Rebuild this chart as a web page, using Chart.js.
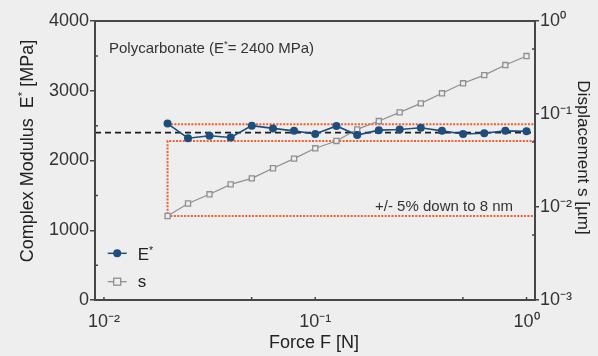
<!DOCTYPE html>
<html><head><meta charset="utf-8">
<script src="https://cdn.jsdelivr.net/npm/chart.js@4.4.1/dist/chart.umd.min.js"></script>
<style>html,body{margin:0;padding:0;background:#eeeeee;overflow:hidden}canvas{display:block}</style>
</head><body>
<canvas id="c" width="598" height="356"></canvas>
<script>
// ---- data ----
const forceN = [0.02, 0.025, 0.0316, 0.0398, 0.0501, 0.0631, 0.0794, 0.1, 0.126, 0.158, 0.2, 0.251, 0.316, 0.398, 0.501, 0.631, 0.794, 1.0];
const modulusMPa = [2530, 2320, 2355, 2330, 2500, 2460, 2425, 2380, 2495, 2365, 2435, 2445, 2470, 2425, 2380, 2390, 2425, 2420];
const displacementUm = [0.0080, 0.0109, 0.0137, 0.0175, 0.0203, 0.0261, 0.0331, 0.0428, 0.0513, 0.0684, 0.084, 0.104, 0.130, 0.167, 0.214, 0.262, 0.336, 0.420];
const referenceModulus = 2400;
const tolerance = 0.05;
const minDisplacementUm = 0.008;
const xTickValues = [0.01, 0.1, 1];
const xTickLabels = ['10⁻²', '10⁻¹', '10⁰'];
const yTickValues = [0, 1000, 2000, 3000, 4000];
const y2TickValues = [0.001, 0.01, 0.1, 1];
const y2TickLabels = ['10⁻³', '10⁻²', '10⁻¹', '10⁰'];
const yMinorValues = [500, 1500, 2500, 3500];
const y2MinorValues = [0.005, 0.05, 0.5];
const xMinorValues = [0.01, 0.05, 0.1, 0.5, 1];

const FF = "'Liberation Sans', Arial, Helvetica, sans-serif";
const BG = '#eeeeee';
const BLUE = '#1d4e7e';
const GREY = '#8f8f8f';
const ORANGE = '#ef5f2f';
const AXIS = '#474747';
Chart.defaults.font.family = FF;

function drawRich(ctx, parts, x, y, size, align, rot, color) {
  ctx.save();
  ctx.translate(x, y);
  ctx.rotate(rot);
  ctx.fillStyle = color;
  ctx.textBaseline = 'alphabetic';
  ctx.textAlign = 'left';
  let w = 0;
  parts.forEach(p => { ctx.font = (p.sup ? size * 0.62 : size) + 'px ' + FF; p.w = ctx.measureText(p.t).width; w += p.w; });
  let cx = align === 'center' ? -w / 2 : (align === 'right' ? -w : 0);
  parts.forEach(p => {
    ctx.font = (p.sup ? size * 0.62 : size) + 'px ' + FF;
    ctx.fillText(p.t, cx, p.sup ? -size * 0.38 : 0);
    cx += p.w;
  });
  ctx.restore();
}

const decorPlugin = {
  id: 'decor',
  beforeDatasetsDraw(chart) {
    const {ctx, chartArea: a, scales: {x, y, y2}} = chart;
    ctx.save();
    // reference dashed line
    ctx.strokeStyle = '#1e1e1e'; ctx.lineWidth = 1.8; ctx.setLineDash([6, 4]);
    const yr = y.getPixelForValue(referenceModulus);
    ctx.beginPath(); ctx.moveTo(a.left, yr); ctx.lineTo(a.right, yr); ctx.stroke();
    // tolerance band (dotted)
    ctx.strokeStyle = ORANGE; ctx.lineWidth = 2; ctx.setLineDash([2, 1.4]);
    const x0 = x.getPixelForValue(forceN[0]);
    const yUp = y.getPixelForValue(referenceModulus * (1 + tolerance));
    const yLo = y.getPixelForValue(referenceModulus * (1 - tolerance));
    const yMin = y2.getPixelForValue(minDisplacementUm);
    ctx.beginPath(); ctx.moveTo(x0, yUp); ctx.lineTo(a.right, yUp); ctx.stroke();
    ctx.beginPath(); ctx.moveTo(a.right, yLo); ctx.lineTo(x0, yLo); ctx.lineTo(x0, yMin); ctx.lineTo(a.right, yMin); ctx.stroke();
    ctx.restore();
  },
  afterDraw(chart) {
    const {ctx, chartArea: a, scales: {x, y, y2}} = chart;
    ctx.save();
    // frame
    ctx.strokeStyle = AXIS; ctx.lineWidth = 2; ctx.setLineDash([]);
    ctx.strokeRect(a.left, a.top, a.right - a.left, a.bottom - a.top);
    // inward small ticks
    ctx.lineWidth = 1.5;
    ctx.beginPath();
    yMinorValues.forEach(v => { const p = y.getPixelForValue(v); ctx.moveTo(a.left, p); ctx.lineTo(a.left + 3, p); });
    y2MinorValues.forEach(v => { const p = y2.getPixelForValue(v); ctx.moveTo(a.right, p); ctx.lineTo(a.right - 3, p); });
    xMinorValues.forEach(v => { const p = x.getPixelForValue(v); ctx.moveTo(p, a.bottom); ctx.lineTo(p, a.bottom - 3); });
    ctx.stroke();
    // titles
    drawRich(ctx, [{t: 'Complex Modulus  E'}, {t: '*', sup: true}, {t: ' [MPa]'}], 33, 151, 18, 'center', -Math.PI / 2, '#222');
    drawRich(ctx, [{t: 'Displacement s [µm]'}], 577.5, 157.5, 17, 'center', Math.PI / 2, '#222');
    drawRich(ctx, [{t: 'Force F [N]'}], 314, 347.5, 18, 'center', 0, '#222');
    // annotations
    drawRich(ctx, [{t: 'Polycarbonate (E'}, {t: '*', sup: true}, {t: '= ' + referenceModulus + ' MPa)'}], 109, 53, 15, 'left', 0, '#333');
    drawRich(ctx, [{t: '+/- ' + Math.round(tolerance * 100) + '% down to ' + Math.round(minDisplacementUm * 1000) + ' nm'}], 513, 211, 15, 'right', 0, '#333');
    // legend
    const lx0 = 107.7, lx1 = 126.7, lcx = (lx0 + lx1) / 2;
    ctx.lineWidth = 1.5; ctx.strokeStyle = BLUE;
    ctx.beginPath(); ctx.moveTo(lx0, 253.3); ctx.lineTo(lx1, 253.3); ctx.stroke();
    ctx.fillStyle = BLUE; ctx.beginPath(); ctx.arc(lcx, 253.3, 4, 0, Math.PI * 2); ctx.fill();
    ctx.lineWidth = 1.3; ctx.strokeStyle = GREY;
    ctx.beginPath(); ctx.moveTo(lx0, 281.7); ctx.lineTo(lx1, 281.7); ctx.stroke();
    ctx.fillStyle = BG; ctx.fillRect(lcx - 3.5, 281.7 - 3.5, 7, 7); ctx.strokeRect(lcx - 3.5, 281.7 - 3.5, 7, 7);
    drawRich(ctx, [{t: 'E'}, {t: '*', sup: true}], 137.7, 260, 17, 'left', 0, '#222');
    drawRich(ctx, [{t: 's'}], 137.7, 287, 17, 'left', 0, '#222');
    ctx.restore();
  }
};

const tickFont = {size: 18, family: FF};
new Chart(document.getElementById('c'), {
  type: 'line',
  data: {
    datasets: [
      {
        label: 'E*', data: forceN.map((f, i) => ({x: f, y: modulusMPa[i]})), yAxisID: 'y', order: 0,
        borderColor: BLUE, backgroundColor: BLUE, borderWidth: 1.6,
        pointRadius: 4, pointBackgroundColor: BLUE, pointBorderColor: BLUE, pointBorderWidth: 0, tension: 0
      },
      {
        label: 's', data: forceN.map((f, i) => ({x: f, y: displacementUm[i]})), yAxisID: 'y2', order: 1,
        borderColor: GREY, backgroundColor: BG, borderWidth: 1.2,
        pointStyle: 'rect', pointRadius: 3.6, pointBackgroundColor: BG, pointBorderColor: GREY, pointBorderWidth: 1.3, tension: 0
      }
    ]
  },
  options: {
    responsive: false, animation: false, devicePixelRatio: 1,
    layout: {padding: {top: 21, left: 0, right: 0, bottom: 0}},
    plugins: {legend: {display: false}, tooltip: {enabled: false}},
    scales: {
      x: {
        type: 'logarithmic', position: 'bottom', min: 0.00907, max: 1.097,
        afterBuildTicks: s => { s.ticks = xTickValues.map(v => ({value: v})); },
        afterFit: s => { s.height = 56; },
        ticks: {callback: (v, i) => xTickLabels[i], autoSkip: false, maxRotation: 0, minRotation: 0, font: tickFont, color: '#333', padding: 3},
        grid: {display: false}, border: {display: false}
      },
      y: {
        type: 'linear', position: 'left', min: 0, max: 4000,
        afterBuildTicks: s => { s.ticks = yTickValues.map(v => ({value: v})); },
        afterFit: s => { s.width = 95; },
        ticks: {font: tickFont, color: '#333', padding: 1, callback: v => String(v)},
        grid: {display: true, drawOnChartArea: false, drawTicks: true, tickLength: 5, color: AXIS, lineWidth: 1.5},
        border: {display: false}
      },
      y2: {
        type: 'logarithmic', position: 'right', min: 0.001, max: 1,
        afterBuildTicks: s => { s.ticks = y2TickValues.map(v => ({value: v})); },
        afterFit: s => { s.width = 63; },
        ticks: {callback: (v, i) => y2TickLabels[i], font: tickFont, color: '#333', padding: 1},
        grid: {display: true, drawOnChartArea: false, drawTicks: true, tickLength: 4, color: AXIS, lineWidth: 1.5},
        border: {display: false}
      }
    }
  },
  plugins: [decorPlugin]
});
</script>
</body></html>
